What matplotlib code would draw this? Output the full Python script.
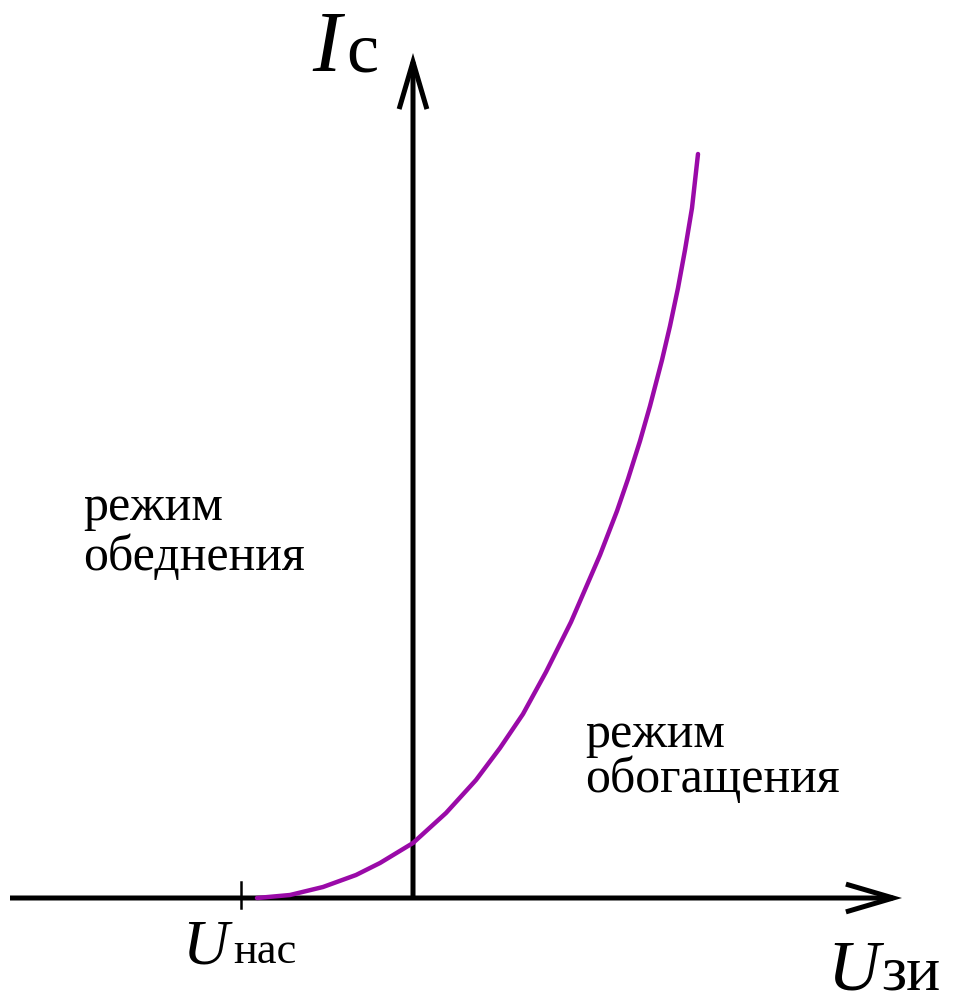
import matplotlib
matplotlib.use("Agg")
import matplotlib.pyplot as plt
from matplotlib.patches import FancyArrowPatch

plt.rcParams['font.family'] = ['Liberation Serif', 'DejaVu Serif']

# ─────────────────────────────────────────
# data: transfer characteristic Ic(Uzi), arbitrary units
# ─────────────────────────────────────────
u_zi = [-1.56, -1.23, -0.90, -0.57, -0.33, 0.00, 0.33, 0.63, 0.87, 1.10,
        1.33, 1.58, 1.87, 2.04, 2.15, 2.27, 2.37, 2.49, 2.57, 2.65,
        2.72, 2.79, 2.85]
i_c = [0.00, 0.03, 0.11, 0.23, 0.35, 0.55, 0.85, 1.18, 1.50, 1.84,
       2.26, 2.76, 3.43, 3.87, 4.19, 4.57, 4.92, 5.38, 5.72, 6.10,
       6.48, 6.90, 7.44]
u_nas = -1.72

x_range = (-4.13, 5.43)
y_range = (-1.07, 8.98)

# ─────────────────────────────────────────
# figure
# ─────────────────────────────────────────
fig = plt.figure(figsize=(9.56, 10.05), dpi=100)
ax = fig.add_axes([0, 0, 1, 1])
ax.set_xlim(*x_range)
ax.set_ylim(*y_range)
ax.axis("off")

# axes with arrows
arrow_kw = dict(arrowstyle="->,head_length=34,head_width=10",
                mutation_scale=1, lw=3.6, color="black",
                shrinkA=0, shrinkB=0, joinstyle="miter", capstyle="butt")
ax.add_patch(FancyArrowPatch((-4.03, 0), (4.89, 0), **arrow_kw))
ax.add_patch(FancyArrowPatch((0, 0), (0, 8.45), **arrow_kw))

# tick at U_nas
ax.plot([u_nas, u_nas], [-0.10, 0.16], color="black", lw=1.8)

# curve
ax.plot(u_zi, i_c, color="#9a0aa8", lw=3.2, solid_capstyle="round",
        solid_joinstyle="round", zorder=3)

# labels
ax.text(-1.01, 8.27, "I", style="italic", fontsize=62, va="baseline", ha="left")
ax.text(-0.67, 8.27, "с", fontsize=52, va="baseline", ha="left")

ax.text(-2.31, -0.65, "U", style="italic", fontsize=46, va="baseline", ha="left")
ax.text(-1.80, -0.65, "нас", fontsize=32, va="baseline", ha="left")

ax.text(4.14, -0.91, "U", style="italic", fontsize=52, va="baseline", ha="left")
ax.text(4.68, -0.91, "зи", fontsize=46, va="baseline", ha="left")

ax.text(-3.30, 3.78, "режим", fontsize=36, va="baseline", ha="left")
ax.text(-3.30, 3.28, "обеднения", fontsize=36, va="baseline", ha="left")

ax.text(1.72, 1.51, "режим", fontsize=36, va="baseline", ha="left")
ax.text(1.72, 1.06, "обогащения", fontsize=36, va="baseline", ha="left")

plt.savefig("out.png", dpi=100)
